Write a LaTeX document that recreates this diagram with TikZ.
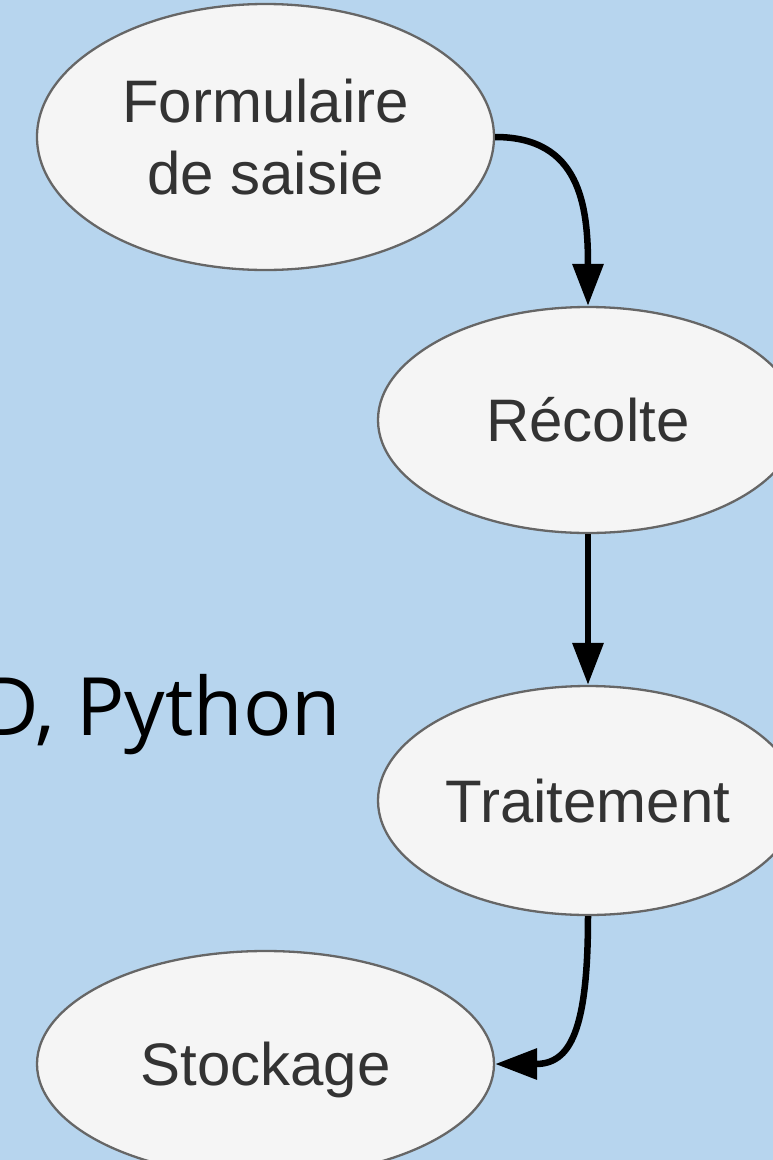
\documentclass[tikz,border=0pt]{standalone}
\usepackage{fontspec}
\setmainfont{Liberation Sans}
\newfontfamily\pyfont{Open Sans}
\usetikzlibrary{shapes.geometric,arrows.meta}
\definecolor{bgblue}{HTML}{B7D5EE}
\definecolor{nodefill}{HTML}{F5F5F5}
\definecolor{nodeedge}{HTML}{666666}
\definecolor{nodetext}{HTML}{333333}
\tikzset{
  procnode/.style={ellipse, draw=nodeedge, line width=2.3pt, fill=nodefill,
    text=nodetext, inner sep=0pt, font=\fontsize{60}{72}\selectfont},
  oneline/.style={text height=43pt, text depth=0pt},
  conn/.style={draw=black, line width=6.5pt, -{Triangle[length=42pt,width=30pt]}}
}
\begin{document}
\begin{tikzpicture}[x=1pt,y=-1pt]
\useasboundingbox (0,0) rectangle (773,1160);
\clip (0,0) rectangle (773,1160);
\fill[bgblue] (0,0) rectangle (773,1160);

\node[anchor=base west, inner sep=0pt, font=\pyfont\fontsize{80.5}{96}\selectfont] (py) at (-20,735) {D, Python};

\node[procnode, align=center, minimum width=457pt, minimum height=266pt] (form) at (265.5,137) {Formulaire\\de saisie};
\node[procnode, oneline, minimum width=420pt, minimum height=226pt] (rec) at (588,420) {Récolte};
\node[procnode, oneline, minimum width=420pt, minimum height=229pt] (trait) at (588,800.5) {Traitement};
\node[procnode, oneline, minimum width=457pt, minimum height=226pt] (stock) at (265.5,1064) {Stockage};

\draw[conn] (form.east) .. controls +(85,0) and +(0,-100) .. (rec.north);
\draw[conn] (rec.south) -- (trait.north);
\draw[conn] (trait.south) .. controls +(0,115) and +(75,0) .. (stock.east);
\end{tikzpicture}
\end{document}
